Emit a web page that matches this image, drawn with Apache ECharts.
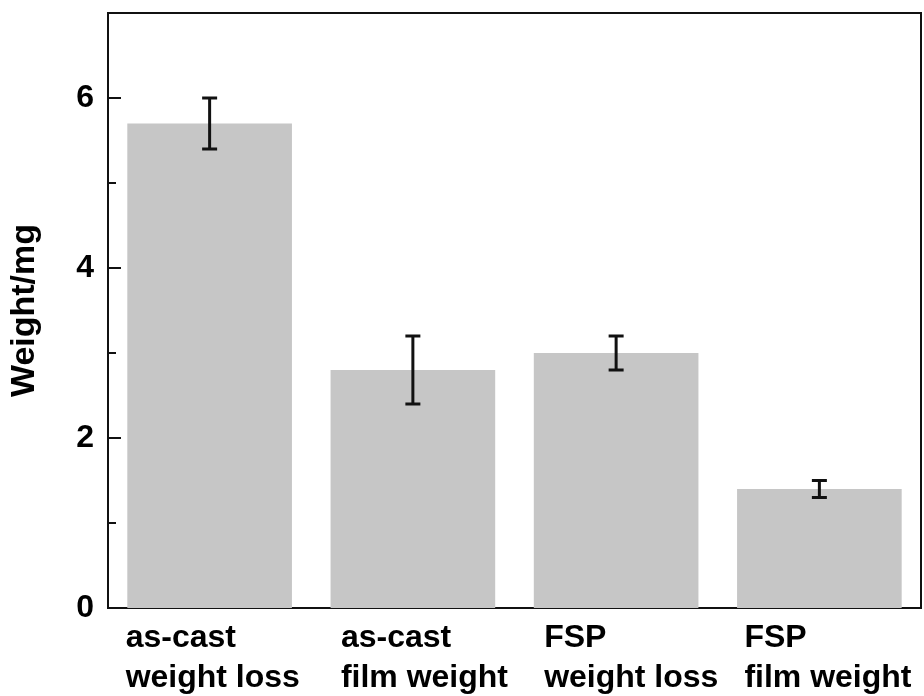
<!DOCTYPE html>
<html lang="en">
<head>
    <meta charset="UTF-8">
    <title>Weight/mg</title>
    <style>
      * { padding: 0; margin: 0; }
      body { background: #fff; }
    </style>
</head>
<body>
    <div id="main" style="width: 924px;height:696px;"></div>
    <script src="https://cdn.jsdelivr.net/npm/echarts@6/dist/echarts.min.js"></script>
    <script>
     // data
     var categories = ['as-cast\nweight loss', 'as-cast\nfilm weight', 'FSP\nweight loss', 'FSP\nfilm weight'];
     var weights = [5.7, 2.8, 3.0, 1.4];
     var errors = [0.3, 0.4, 0.2, 0.1];

     // label box widths so the two lines start near the bar's left edge
     var labelWidths = [168, 144, 144, 150];
     var font = 'Liberation Sans, Arial, sans-serif';

     var errData = weights.map(function (v, i) {
         return [i, v - errors[i], v + errors[i]];
     });

     option = {
         animation: false,
         backgroundColor: '#fff',
         grid: {
             left: 107, right: 3, top: 13, bottom: 88,
             show: true, borderColor: '#111', borderWidth: 2
         },
         xAxis: {
             type: 'category',
             data: categories.map(function (c, i) {
                 return {
                     value: c,
                     textStyle: { width: labelWidths[i] }
                 };
             }),
             axisLine: { lineStyle: { color: '#111', width: 2 } },
             axisTick: { show: false },
             axisLabel: {
                 margin: 10,
                 formatter: function (val) {
                     return val.split('\n').map(function (s) { return '{a|' + s + '}'; }).join('\n');
                 },
                 rich: {
                     a: {
                         align: 'left',
                         fontSize: 32,
                         fontWeight: 'bold',
                         fontFamily: font,
                         color: '#000',
                         lineHeight: 40
                     }
                 }
             }
         },
         yAxis: {
             type: 'value',
             min: 0, max: 7, interval: 2,
             name: 'Weight/mg',
             nameLocation: 'middle',
             nameGap: 66,
             nameTextStyle: { fontSize: 34, fontWeight: 'bold', fontFamily: font, color: '#000' },
             axisLine: { show: true, lineStyle: { color: '#111', width: 2 } },
             axisTick: { show: true, inside: true, length: 13, lineStyle: { color: '#111', width: 2 } },
             minorTick: { show: true, splitNumber: 2, length: 8, lineStyle: { color: '#111', width: 2 } },
             splitLine: { show: false },
             axisLabel: {
                 margin: 14,
                 showMaxLabel: false,
                 fontSize: 32, fontWeight: 'bold', fontFamily: font, color: '#000'
             }
         },
         series: [
             {
                 type: 'bar',
                 data: weights,
                 barCategoryGap: '19%',
                 itemStyle: { color: '#c6c6c6' }
             },
             {
                 type: 'custom',
                 data: errData,
                 z: 5,
                 renderItem: function (params, api) {
                     var x = api.value(0);
                     var lo = api.coord([x, api.value(1)]);
                     var hi = api.coord([x, api.value(2)]);
                     var cap = 7.5;
                     var st = { stroke: '#111', lineWidth: 3 };
                     return {
                         type: 'group',
                         children: [
                             { type: 'line', shape: { x1: hi[0], y1: hi[1], x2: lo[0], y2: lo[1] }, style: st },
                             { type: 'line', shape: { x1: hi[0] - cap, y1: hi[1], x2: hi[0] + cap, y2: hi[1] }, style: st },
                             { type: 'line', shape: { x1: lo[0] - cap, y1: lo[1], x2: lo[0] + cap, y2: lo[1] }, style: st }
                         ]
                     };
                 }
             }
         ]
     };

     var myChart = echarts.init(document.getElementById('main'));
     myChart.setOption(option);
    </script>
</body>
</html>
